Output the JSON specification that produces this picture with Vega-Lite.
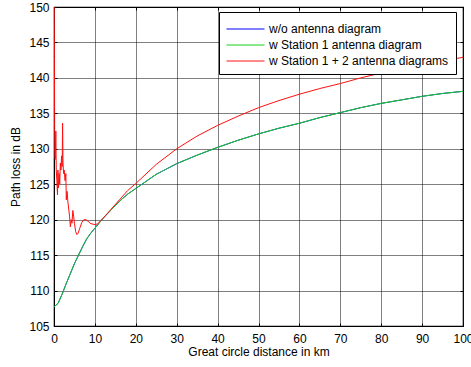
{
  "$schema": "https://vega.github.io/schema/vega-lite/v6.json",
  "autosize": "none",
  "width": 409,
  "height": 319,
  "padding": {"left": 54, "top": 7, "right": 8, "bottom": 41},
  "background": "white",
  "config": {
    "font": "Liberation Sans",
    "view": {"stroke": "black", "strokeWidth": 1.2},
    "axis": {
      "labelFont": "Liberation Sans",
      "labelFontSize": 12,
      "labelColor": "black",
      "titleFont": "Liberation Sans",
      "titleFontSize": 12,
      "titleFontWeight": "normal",
      "titleColor": "black",
      "domainColor": "black",
      "tickColor": "black",
      "gridColor": "black",
      "gridDash": [1, 1],
      "gridOpacity": 1,
      "gridWidth": 1
    }
  },
  "data": {
    "values": [
      {"series": "w/o antenna diagram", "d": 0, "pl": 107.7},
      {"series": "w/o antenna diagram", "d": 1, "pl": 108.2},
      {"series": "w/o antenna diagram", "d": 2, "pl": 109.5},
      {"series": "w/o antenna diagram", "d": 3, "pl": 111.0},
      {"series": "w/o antenna diagram", "d": 4, "pl": 112.4},
      {"series": "w/o antenna diagram", "d": 5, "pl": 113.8},
      {"series": "w/o antenna diagram", "d": 6, "pl": 115.0},
      {"series": "w/o antenna diagram", "d": 7, "pl": 116.2},
      {"series": "w/o antenna diagram", "d": 8, "pl": 117.3},
      {"series": "w/o antenna diagram", "d": 9, "pl": 118.1},
      {"series": "w/o antenna diagram", "d": 10, "pl": 118.8},
      {"series": "w/o antenna diagram", "d": 12, "pl": 120.2},
      {"series": "w/o antenna diagram", "d": 14, "pl": 121.4},
      {"series": "w/o antenna diagram", "d": 16, "pl": 122.6},
      {"series": "w/o antenna diagram", "d": 18, "pl": 123.6},
      {"series": "w/o antenna diagram", "d": 20, "pl": 124.4},
      {"series": "w/o antenna diagram", "d": 25, "pl": 126.4},
      {"series": "w/o antenna diagram", "d": 30, "pl": 127.9},
      {"series": "w/o antenna diagram", "d": 35, "pl": 129.1},
      {"series": "w/o antenna diagram", "d": 40, "pl": 130.2},
      {"series": "w/o antenna diagram", "d": 45, "pl": 131.2},
      {"series": "w/o antenna diagram", "d": 50, "pl": 132.1},
      {"series": "w/o antenna diagram", "d": 55, "pl": 132.9},
      {"series": "w/o antenna diagram", "d": 60, "pl": 133.6},
      {"series": "w/o antenna diagram", "d": 65, "pl": 134.4},
      {"series": "w/o antenna diagram", "d": 70, "pl": 135.1},
      {"series": "w/o antenna diagram", "d": 75, "pl": 135.8},
      {"series": "w/o antenna diagram", "d": 80, "pl": 136.4},
      {"series": "w/o antenna diagram", "d": 85, "pl": 136.9},
      {"series": "w/o antenna diagram", "d": 90, "pl": 137.4},
      {"series": "w/o antenna diagram", "d": 95, "pl": 137.8},
      {"series": "w/o antenna diagram", "d": 100, "pl": 138.1},

      {"series": "w Station 1 antenna diagram", "d": 0, "pl": 107.7},
      {"series": "w Station 1 antenna diagram", "d": 1, "pl": 108.2},
      {"series": "w Station 1 antenna diagram", "d": 2, "pl": 109.5},
      {"series": "w Station 1 antenna diagram", "d": 3, "pl": 111.0},
      {"series": "w Station 1 antenna diagram", "d": 4, "pl": 112.4},
      {"series": "w Station 1 antenna diagram", "d": 5, "pl": 113.8},
      {"series": "w Station 1 antenna diagram", "d": 6, "pl": 115.0},
      {"series": "w Station 1 antenna diagram", "d": 7, "pl": 116.2},
      {"series": "w Station 1 antenna diagram", "d": 8, "pl": 117.3},
      {"series": "w Station 1 antenna diagram", "d": 9, "pl": 118.1},
      {"series": "w Station 1 antenna diagram", "d": 10, "pl": 118.8},
      {"series": "w Station 1 antenna diagram", "d": 12, "pl": 120.2},
      {"series": "w Station 1 antenna diagram", "d": 14, "pl": 121.4},
      {"series": "w Station 1 antenna diagram", "d": 16, "pl": 122.6},
      {"series": "w Station 1 antenna diagram", "d": 18, "pl": 123.6},
      {"series": "w Station 1 antenna diagram", "d": 20, "pl": 124.4},
      {"series": "w Station 1 antenna diagram", "d": 25, "pl": 126.4},
      {"series": "w Station 1 antenna diagram", "d": 30, "pl": 127.9},
      {"series": "w Station 1 antenna diagram", "d": 35, "pl": 129.1},
      {"series": "w Station 1 antenna diagram", "d": 40, "pl": 130.2},
      {"series": "w Station 1 antenna diagram", "d": 45, "pl": 131.2},
      {"series": "w Station 1 antenna diagram", "d": 50, "pl": 132.1},
      {"series": "w Station 1 antenna diagram", "d": 55, "pl": 132.9},
      {"series": "w Station 1 antenna diagram", "d": 60, "pl": 133.6},
      {"series": "w Station 1 antenna diagram", "d": 65, "pl": 134.4},
      {"series": "w Station 1 antenna diagram", "d": 70, "pl": 135.1},
      {"series": "w Station 1 antenna diagram", "d": 75, "pl": 135.8},
      {"series": "w Station 1 antenna diagram", "d": 80, "pl": 136.4},
      {"series": "w Station 1 antenna diagram", "d": 85, "pl": 136.9},
      {"series": "w Station 1 antenna diagram", "d": 90, "pl": 137.4},
      {"series": "w Station 1 antenna diagram", "d": 95, "pl": 137.8},
      {"series": "w Station 1 antenna diagram", "d": 100, "pl": 138.1},

      {"series": "w Station 1 + 2 antenna diagrams", "d": 0, "pl": 156},
      {"series": "w Station 1 + 2 antenna diagrams", "d": 0.05, "pl": 150},
      {"series": "w Station 1 + 2 antenna diagrams", "d": 0.1, "pl": 143},
      {"series": "w Station 1 + 2 antenna diagrams", "d": 0.15, "pl": 134},
      {"series": "w Station 1 + 2 antenna diagrams", "d": 0.2, "pl": 129.5},
      {"series": "w Station 1 + 2 antenna diagrams", "d": 0.3, "pl": 128.5},
      {"series": "w Station 1 + 2 antenna diagrams", "d": 0.45, "pl": 132.5},
      {"series": "w Station 1 + 2 antenna diagrams", "d": 0.55, "pl": 127},
      {"series": "w Station 1 + 2 antenna diagrams", "d": 0.7, "pl": 125.5},
      {"series": "w Station 1 + 2 antenna diagrams", "d": 0.85, "pl": 123.5},
      {"series": "w Station 1 + 2 antenna diagrams", "d": 0.95, "pl": 127},
      {"series": "w Station 1 + 2 antenna diagrams", "d": 1.1, "pl": 124.5},
      {"series": "w Station 1 + 2 antenna diagrams", "d": 1.25, "pl": 126.5},
      {"series": "w Station 1 + 2 antenna diagrams", "d": 1.4, "pl": 125},
      {"series": "w Station 1 + 2 antenna diagrams", "d": 1.55, "pl": 128},
      {"series": "w Station 1 + 2 antenna diagrams", "d": 1.7, "pl": 127},
      {"series": "w Station 1 + 2 antenna diagrams", "d": 1.85, "pl": 129},
      {"series": "w Station 1 + 2 antenna diagrams", "d": 2.0, "pl": 127.5},
      {"series": "w Station 1 + 2 antenna diagrams", "d": 2.1, "pl": 133.6},
      {"series": "w Station 1 + 2 antenna diagrams", "d": 2.2, "pl": 128},
      {"series": "w Station 1 + 2 antenna diagrams", "d": 2.35, "pl": 126.5},
      {"series": "w Station 1 + 2 antenna diagrams", "d": 2.5, "pl": 127},
      {"series": "w Station 1 + 2 antenna diagrams", "d": 2.7, "pl": 125.5},
      {"series": "w Station 1 + 2 antenna diagrams", "d": 2.9, "pl": 126.5},
      {"series": "w Station 1 + 2 antenna diagrams", "d": 3.0, "pl": 122.8},
      {"series": "w Station 1 + 2 antenna diagrams", "d": 3.2, "pl": 124},
      {"series": "w Station 1 + 2 antenna diagrams", "d": 3.4, "pl": 122.5},
      {"series": "w Station 1 + 2 antenna diagrams", "d": 3.6, "pl": 121.5},
      {"series": "w Station 1 + 2 antenna diagrams", "d": 3.8, "pl": 120.5},
      {"series": "w Station 1 + 2 antenna diagrams", "d": 4.0, "pl": 119.0},
      {"series": "w Station 1 + 2 antenna diagrams", "d": 4.2, "pl": 120.0},
      {"series": "w Station 1 + 2 antenna diagrams", "d": 4.4, "pl": 119.5},
      {"series": "w Station 1 + 2 antenna diagrams", "d": 4.6, "pl": 121.3},
      {"series": "w Station 1 + 2 antenna diagrams", "d": 4.8, "pl": 120.5},
      {"series": "w Station 1 + 2 antenna diagrams", "d": 5.0, "pl": 119.5},
      {"series": "w Station 1 + 2 antenna diagrams", "d": 5.3, "pl": 118.3},
      {"series": "w Station 1 + 2 antenna diagrams", "d": 5.6, "pl": 117.9},
      {"series": "w Station 1 + 2 antenna diagrams", "d": 5.9, "pl": 118.1},
      {"series": "w Station 1 + 2 antenna diagrams", "d": 6.3, "pl": 118.8},
      {"series": "w Station 1 + 2 antenna diagrams", "d": 6.8, "pl": 119.6},
      {"series": "w Station 1 + 2 antenna diagrams", "d": 7.3, "pl": 120.0},
      {"series": "w Station 1 + 2 antenna diagrams", "d": 7.8, "pl": 120.0},
      {"series": "w Station 1 + 2 antenna diagrams", "d": 8.3, "pl": 119.8},
      {"series": "w Station 1 + 2 antenna diagrams", "d": 8.8, "pl": 119.5},
      {"series": "w Station 1 + 2 antenna diagrams", "d": 9.3, "pl": 119.4},
      {"series": "w Station 1 + 2 antenna diagrams", "d": 10, "pl": 119.3},
      {"series": "w Station 1 + 2 antenna diagrams", "d": 10.6, "pl": 119.4},
      {"series": "w Station 1 + 2 antenna diagrams", "d": 11.2, "pl": 119.7},
      {"series": "w Station 1 + 2 antenna diagrams", "d": 12, "pl": 120.2},
      {"series": "w Station 1 + 2 antenna diagrams", "d": 14, "pl": 121.5},
      {"series": "w Station 1 + 2 antenna diagrams", "d": 16, "pl": 122.8},
      {"series": "w Station 1 + 2 antenna diagrams", "d": 18, "pl": 124.1},
      {"series": "w Station 1 + 2 antenna diagrams", "d": 20, "pl": 125.1},
      {"series": "w Station 1 + 2 antenna diagrams", "d": 25, "pl": 127.8},
      {"series": "w Station 1 + 2 antenna diagrams", "d": 30, "pl": 130.0},
      {"series": "w Station 1 + 2 antenna diagrams", "d": 35, "pl": 131.8},
      {"series": "w Station 1 + 2 antenna diagrams", "d": 40, "pl": 133.3},
      {"series": "w Station 1 + 2 antenna diagrams", "d": 45, "pl": 134.6},
      {"series": "w Station 1 + 2 antenna diagrams", "d": 50, "pl": 135.8},
      {"series": "w Station 1 + 2 antenna diagrams", "d": 55, "pl": 136.8},
      {"series": "w Station 1 + 2 antenna diagrams", "d": 60, "pl": 137.7},
      {"series": "w Station 1 + 2 antenna diagrams", "d": 65, "pl": 138.5},
      {"series": "w Station 1 + 2 antenna diagrams", "d": 70, "pl": 139.2},
      {"series": "w Station 1 + 2 antenna diagrams", "d": 75, "pl": 140.0},
      {"series": "w Station 1 + 2 antenna diagrams", "d": 80, "pl": 140.7},
      {"series": "w Station 1 + 2 antenna diagrams", "d": 85, "pl": 141.3},
      {"series": "w Station 1 + 2 antenna diagrams", "d": 90, "pl": 141.9},
      {"series": "w Station 1 + 2 antenna diagrams", "d": 95, "pl": 142.4},
      {"series": "w Station 1 + 2 antenna diagrams", "d": 100, "pl": 142.9}
    ]
  },
  "resolve": {"axis": {"x": "independent", "y": "independent"}},
  "layer": [
    {
      "transform": [{"filter": "datum.series === 'w/o antenna diagram'"}],
      "mark": {"type": "line", "clip": true, "strokeWidth": 1},
      "encoding": {
        "x": {
          "field": "d", "type": "quantitative",
          "scale": {"domain": [0, 100], "nice": false},
          "axis": {
            "orient": "bottom", "title": "Great circle distance in km",
            "values": [0, 10, 20, 30, 40, 50, 60, 70, 80, 90, 100],
            "ticks": false, "labelPadding": 7, "titlePadding": 2,
            "grid": true, "gridDash": [1, 1], "labelFlush": false, "labelOverlap": false
          }
        },
        "y": {
          "field": "pl", "type": "quantitative",
          "scale": {"domain": [105, 150], "nice": false, "zero": false},
          "axis": {
            "orient": "left", "title": "Path loss in dB",
            "values": [105, 110, 115, 120, 125, 130, 135, 140, 145, 150],
            "ticks": false, "labelPadding": 5, "titlePadding": 6,
            "grid": true, "gridDash": [1, 1], "labelFlush": false, "labelOverlap": false
          }
        },
        "color": {
          "field": "series", "type": "nominal",
          "scale": {
            "domain": ["w/o antenna diagram", "w Station 1 antenna diagram", "w Station 1 + 2 antenna diagrams"],
            "range": ["#0000ff", "#18d018", "#ff1010"]
          },
          "legend": {
            "title": null,
            "orient": "none",
            "legendX": 165,
            "legendY": 5,
            "symbolType": "M-2,0L2,0",
            "symbolSize": 361,
            "symbolOffset": 9.5,
            "symbolStrokeWidth": 1,
            "labelFont": "Liberation Sans",
            "labelFontSize": 12,
            "labelColor": "black",
            "labelOffset": 13.5,
            "rowPadding": -1,
            "padding": 7,
            "strokeColor": "black",
            "fillColor": "white",
            "labelLimit": 400
          }
        }
      }
    },
    {
      "transform": [{"filter": "datum.series === 'w Station 1 antenna diagram'"}],
      "mark": {"type": "line", "clip": true, "strokeWidth": 1},
      "encoding": {
        "x": {
          "field": "d", "type": "quantitative",
          "axis": {
            "orient": "top", "title": null, "labels": false, "grid": false,
            "domain": false, "tickSize": -3,
            "values": [0, 10, 20, 30, 40, 50, 60, 70, 80, 90, 100]
          }
        },
        "y": {
          "field": "pl", "type": "quantitative",
          "axis": {
            "orient": "right", "title": null, "labels": false, "grid": false,
            "domain": false, "tickSize": -3,
            "values": [105, 110, 115, 120, 125, 130, 135, 140, 145, 150]
          }
        },
        "color": {"field": "series", "type": "nominal"}
      }
    },
    {
      "transform": [{"filter": "datum.series === 'w Station 1 + 2 antenna diagrams'"}],
      "mark": {"type": "line", "clip": true, "strokeWidth": 1},
      "encoding": {
        "x": {
          "field": "d", "type": "quantitative",
          "axis": {
            "orient": "bottom", "title": null, "labels": false, "grid": false,
            "domain": false, "tickSize": -3,
            "values": [0, 10, 20, 30, 40, 50, 60, 70, 80, 90, 100]
          }
        },
        "y": {
          "field": "pl", "type": "quantitative",
          "axis": {
            "orient": "left", "title": null, "labels": false, "grid": false,
            "domain": false, "tickSize": -3,
            "values": [105, 110, 115, 120, 125, 130, 135, 140, 145, 150]
          }
        },
        "color": {"field": "series", "type": "nominal"}
      }
    }
  ]
}
